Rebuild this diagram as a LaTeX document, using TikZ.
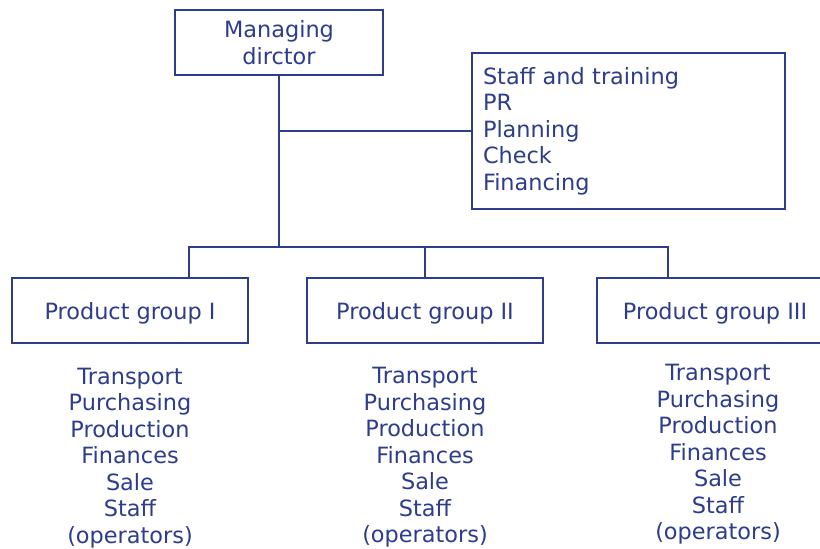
\documentclass[tikz,border=0pt]{standalone}
\usepackage{fontspec}
\setmainfont{DejaVu Sans}
\definecolor{ink}{RGB}{46,60,140}
\newcommand{\dn}[1]{\raisebox{-3pt}[\height][\depth]{#1}}
\begin{document}
\begin{tikzpicture}[x=1pt,y=-1pt,
  txt/.style={text=ink,font=\fontsize{22.4}{26.5}\selectfont},
  box/.style={txt,draw=ink,line width=1.2pt,inner sep=0pt,align=center},
  conn/.style={draw=ink,line width=1.2pt},
  list/.style={txt,align=center,inner sep=0pt}]
\clip (0,0) rectangle (820,549);
\fill[white] (0,0) rectangle (820,549);
\node[box,minimum width=208pt,minimum height=65pt] (md) at (279,42.5) {Managing\\dirctor};
\node[box,minimum width=313pt,minimum height=156pt,text width=291pt,inner xsep=11pt,align=left] (staff) at (628.5,131) {Staff and training\\PR\\Planning\\Check\\Financing};
\node[box,minimum width=236pt,minimum height=65pt] (pg1) at (130,310.5) {\dn{Product group I}};
\node[box,minimum width=236pt,minimum height=65pt] (pg2) at (425,310.5) {\dn{Product group II}};
\node[box,minimum width=236pt,minimum height=65pt] (pg3) at (715,310.5) {\dn{Product group III}};
\coordinate (bus) at (279,247);
\draw[conn] (md.south) -- (bus);
\draw[conn] (staff.west) -- (staff.west -| md.south);
\draw[conn] ([xshift=59pt]pg1.north) |- (bus) -| ([xshift=-47pt]pg3.north);
\draw[conn] (pg2.north) -- (pg2.north |- bus);
\node[list] (l1) at (130,458) {Transport\\Purchasing\\Production\\Finances\\Sale\\Staff\\(operators)};
\node[list] (l2) at (425,457.5) {Transport\\Purchasing\\Production\\Finances\\Sale\\Staff\\(operators)};
\node[list] (l3) at (718,454.5) {Transport\\Purchasing\\Production\\Finances\\Sale\\Staff\\(operators)};
\end{tikzpicture}
\end{document}
